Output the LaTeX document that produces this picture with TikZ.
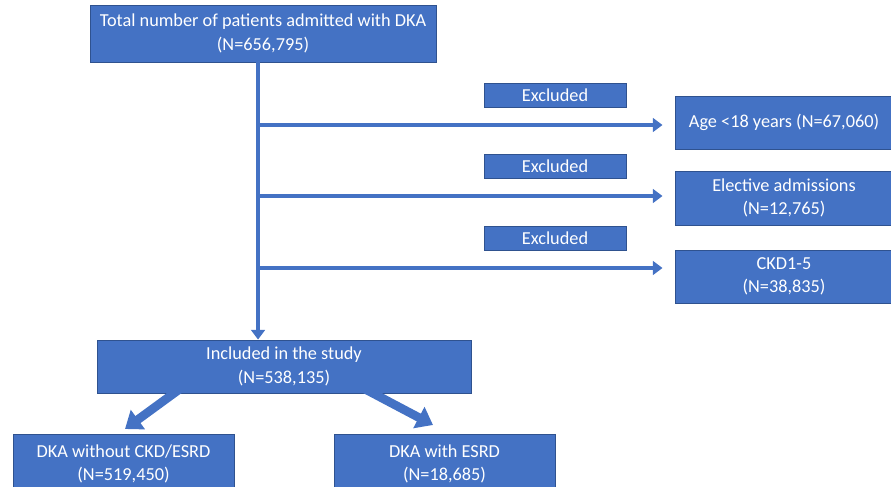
\documentclass[tikz,border=0pt]{standalone}
\usepackage{fontspec}
\setmainfont{Carlito}
\usetikzlibrary{arrows.meta, positioning}
\definecolor{boxblue}{HTML}{4472C4}
\definecolor{edgeblue}{HTML}{2F528F}
\tikzset{%
  >={Triangle[width=3.4mm,length=2.4mm]},
  % Specifications for style of nodes:
  base/.style = {
    draw=edgeblue,
    fill=boxblue,
    text=white,
    text centered,
    line width=0.6pt,
    font=\fontsize{13}{16.5}\selectfont
  },
  action/.style={base, rectangle, minimum height=1.325cm},
  excl/.style={base, rectangle, minimum width=3.55cm, minimum height=0.6cm, inner sep=0pt},
  flow/.style={->, draw=boxblue, line width=2.2pt},
  bigflow/.style={-{Triangle[width=5.8mm,length=4mm]}, draw=boxblue, line width=6.2pt},
}

\begin{document}
\begin{tikzpicture}[
  x=0.025cm, y=-0.025cm,
  align=center,
  ]
  \useasboundingbox (0,0) rectangle (891,486);
  % nodes
  \node (total) [action, minimum width=8.65cm, minimum height=1.425cm] at (263,33.5)
  {Total number of patients admitted with DKA \\ (N=656,795)};
  \node (ex1) [excl] at (555,95) {Excluded};
  \node (ex2) [excl] at (555,166) {Excluded};
  \node (ex3) [excl] at (555,238.5) {Excluded};
  \node (age) [action, minimum width=5.45cm] at (784,122.5)
  {Age <18 years (N=67,060)};
  \node (elective) [action, minimum width=5.45cm, minimum height=1.35cm] at (784,198)
  {Elective admissions \\ (N=12,765)};
  \node (ckd) [action, minimum width=5.45cm] at (784,276.5)
  {CKD1-5 \\ (N=38,835)};
  \node (incl) [action, minimum width=9.35cm] at (284,366.5)
  {Included in the study \\ (N=538,135)};
  \node (noesrd) [action, minimum width=5.525cm, minimum height=1.5cm] at (123.5,464)
  {DKA without CKD/ESRD \\ (N=519,450)};
  \node (esrd) [action, minimum width=5.525cm, minimum height=1.5cm] at (444.5,464)
  {DKA with ESRD \\ (N=18,685)};
  % points on the spine
  \coordinate (spine) at (258,0);
  \coordinate (j1) at (258,125);
  \coordinate (j2) at (258,196);
  \coordinate (j3) at (258,268);
  \coordinate (ltail) at (188,383);
  \coordinate (ltip) at (125,429);
  \coordinate (rtail) at (363,388);
  \coordinate (rtip) at (433,425);
  % lines
  \draw[flow] (total.south -| spine) -- (incl.north -| spine);
  \draw[flow, shorten >=0.3cm] (j1) -- (j1 -| age.west);
  \draw[flow, shorten >=0.3cm] (j2) -- (j2 -| elective.west);
  \draw[flow, shorten >=0.3cm] (j3) -- (j3 -| ckd.west);
  \draw[bigflow] (ltail) -- (ltip);
  \draw[bigflow] (rtail) -- (rtip);
\end{tikzpicture}
\end{document}
